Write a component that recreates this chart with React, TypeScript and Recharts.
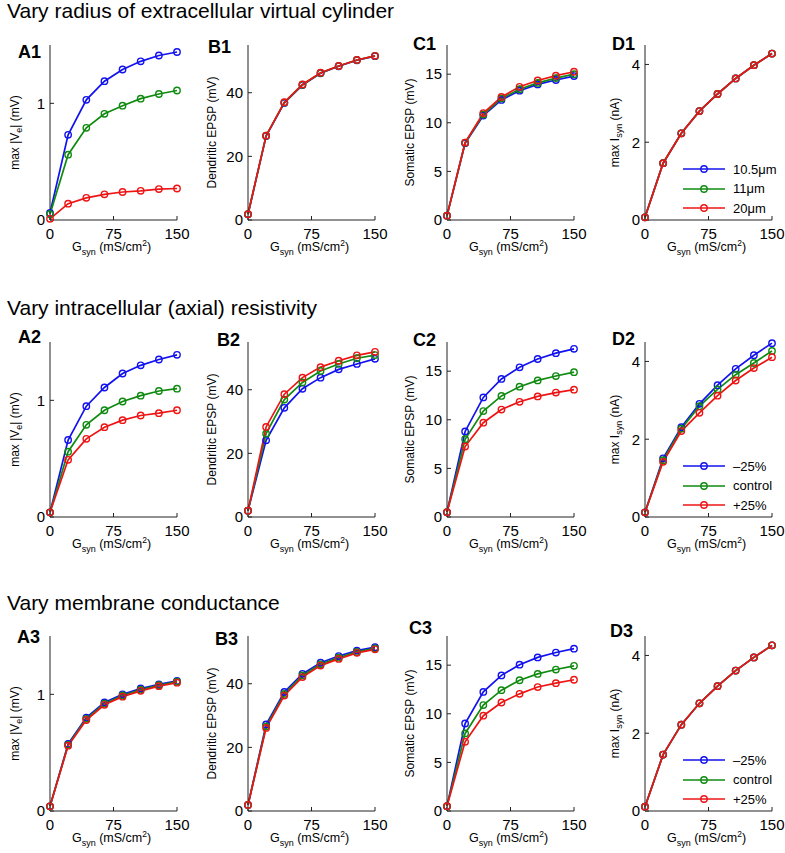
import { LineChart, Line, XAxis, YAxis, Legend } from 'recharts';

const FONT = '"Liberation Sans", Arial, Helvetica, sans-serif';
const BLUE = '#1212ee';
const GREEN = '#108a10';
const RED = '#ee1414';

// conductance sampled at 8 points (mS/cm2)
const G_SYN = [0, 21.4, 42.9, 64.3, 85.7, 107.1, 128.6, 150];
const X_TICKS = [0, 75, 150];

const TITLES = [
  'Vary radius of extracellular virtual cylinder',
  'Vary intracellular (axial) resistivity',
  'Vary membrane conductance',
];
const RADIUS_LABELS = ['10.5\u03bcm', '11\u03bcm', '20\u03bcm'];
const PERCENT_LABELS = ['\u201325%', 'control', '+25%'];

// row 1: radius of virtual cylinder
const A1_BLUE = [0.06, 0.73, 1.03, 1.19, 1.29, 1.36, 1.41, 1.44];
const A1_GREEN = [0.05, 0.56, 0.79, 0.91, 0.98, 1.04, 1.08, 1.11];
const A1_RED = [0.01, 0.14, 0.19, 0.22, 0.24, 0.25, 0.265, 0.27];
const B1_BLUE = [1.8, 26.4, 36.8, 42.4, 46.1, 48.3, 50.2, 51.5];
const B1_GREEN = [1.8, 26.5, 36.9, 42.5, 46.2, 48.4, 50.3, 51.6];
const B1_RED = [1.8, 26.5, 37.0, 42.6, 46.3, 48.4, 50.3, 51.6];
const C1_BLUE = [0.45, 7.9, 10.75, 12.35, 13.3, 13.95, 14.4, 14.8];
const C1_GREEN = [0.45, 7.95, 10.85, 12.5, 13.45, 14.1, 14.6, 15.0];
const C1_RED = [0.45, 7.96, 11.0, 12.65, 13.7, 14.35, 14.85, 15.25];
const D1_BLUE = [0.07, 1.46, 2.23, 2.8, 3.24, 3.64, 3.98, 4.28];
const D1_GREEN = [0.07, 1.46, 2.23, 2.8, 3.24, 3.64, 3.98, 4.28];
const D1_RED = [0.07, 1.46, 2.23, 2.8, 3.24, 3.64, 3.98, 4.28];

// row 2: axial resistivity
const A2_BLUE = [0.04, 0.66, 0.95, 1.11, 1.23, 1.3, 1.35, 1.39];
const A2_GREEN = [0.04, 0.56, 0.79, 0.915, 0.99, 1.04, 1.08, 1.1];
const A2_RED = [0.04, 0.49, 0.67, 0.77, 0.83, 0.87, 0.89, 0.915];
const B2_BLUE = [2.0, 24.1, 34.3, 40.3, 43.8, 46.4, 48.1, 49.7];
const B2_GREEN = [2.0, 26.2, 36.9, 42.3, 45.9, 48.1, 49.9, 50.9];
const B2_RED = [2.0, 28.3, 38.6, 43.8, 47.1, 49.1, 50.8, 51.9];
const C2_BLUE = [0.5, 8.8, 12.3, 14.2, 15.4, 16.25, 16.85, 17.3];
const C2_GREEN = [0.5, 8.0, 10.9, 12.45, 13.4, 14.05, 14.5, 14.9];
const C2_RED = [0.5, 7.25, 9.7, 11.05, 11.85, 12.4, 12.8, 13.1];
const D2_BLUE = [0.12, 1.51, 2.31, 2.91, 3.39, 3.81, 4.16, 4.47];
const D2_GREEN = [0.12, 1.46, 2.27, 2.85, 3.28, 3.66, 3.96, 4.27];
const D2_RED = [0.12, 1.42, 2.21, 2.68, 3.12, 3.51, 3.83, 4.11];

// row 3: membrane conductance
const A3_BLUE = [0.04, 0.575, 0.8, 0.93, 1.0, 1.05, 1.085, 1.115];
const A3_GREEN = [0.04, 0.567, 0.79, 0.92, 0.99, 1.04, 1.078, 1.109];
const A3_RED = [0.04, 0.56, 0.78, 0.91, 0.98, 1.03, 1.07, 1.1];
const B3_BLUE = [1.9, 27.2, 37.4, 43.1, 46.6, 48.7, 50.4, 51.5];
const B3_GREEN = [1.9, 26.6, 36.8, 42.6, 46.1, 48.2, 50.0, 51.1];
const B3_RED = [1.9, 26.1, 36.3, 42.1, 45.7, 47.8, 49.7, 50.8];
const C3_BLUE = [0.5, 9.0, 12.25, 13.95, 15.05, 15.8, 16.3, 16.7];
const C3_GREEN = [0.5, 7.98, 10.9, 12.43, 13.45, 14.1, 14.55, 14.93];
const C3_RED = [0.5, 7.12, 9.8, 11.16, 12.05, 12.75, 13.15, 13.5];
const D3_BLUE = [0.11, 1.45, 2.22, 2.77, 3.21, 3.61, 3.95, 4.26];
const D3_GREEN = [0.11, 1.45, 2.22, 2.77, 3.21, 3.61, 3.95, 4.26];
const D3_RED = [0.11, 1.45, 2.22, 2.77, 3.21, 3.61, 3.95, 4.26];

const A_TICKS = [0, 1];
const B_TICKS = [0, 20, 40];
const C_TICKS = [0, 5, 10, 15];
const D_TICKS = [0, 2, 4];

// layout
const COL_LEFT = [50, 248, 447, 645];
const ROW_TOP = [45, 342, 636];
const TITLE_TOP = [0, 297, 592];
const PW = 127;
const PH = 175;
const YW = 48;
const MT = 8;
const MR = 22;
const XH = 42;

type Col = 'A' | 'B' | 'C' | 'D';
const COL_DOMAIN: Record<Col, [number, number]> = { A: [0, 1.5], B: [0, 55], C: [0, 18], D: [0, 4.5] };
const COL_TICKS: Record<Col, number[]> = { A: A_TICKS, B: B_TICKS, C: C_TICKS, D: D_TICKS };
const COL_LABEL_X: Record<Col, number> = { A: -35, B: -36, C: -37, D: -30 };

type PanelDef = {
  tag: string; col: Col; row: number; tagX: number; tagY: number;
  blue: number[]; green: number[]; red: number[]; legend?: string[];
};

const PANELS: PanelDef[] = [
  { tag: 'A1', col: 'A', row: 0, tagX: 18, tagY: 45, blue: A1_BLUE, green: A1_GREEN, red: A1_RED },
  { tag: 'B1', col: 'B', row: 0, tagX: 208, tagY: 40, blue: B1_BLUE, green: B1_GREEN, red: B1_RED },
  { tag: 'C1', col: 'C', row: 0, tagX: 413, tagY: 37, blue: C1_BLUE, green: C1_GREEN, red: C1_RED },
  { tag: 'D1', col: 'D', row: 0, tagX: 612, tagY: 37, blue: D1_BLUE, green: D1_GREEN, red: D1_RED, legend: RADIUS_LABELS },
  { tag: 'A2', col: 'A', row: 1, tagX: 18, tagY: 330, blue: A2_BLUE, green: A2_GREEN, red: A2_RED },
  { tag: 'B2', col: 'B', row: 1, tagX: 217, tagY: 333, blue: B2_BLUE, green: B2_GREEN, red: B2_RED },
  { tag: 'C2', col: 'C', row: 1, tagX: 413, tagY: 333, blue: C2_BLUE, green: C2_GREEN, red: C2_RED },
  { tag: 'D2', col: 'D', row: 1, tagX: 612, tagY: 332, blue: D2_BLUE, green: D2_GREEN, red: D2_RED, legend: PERCENT_LABELS },
  { tag: 'A3', col: 'A', row: 2, tagX: 17, tagY: 630, blue: A3_BLUE, green: A3_GREEN, red: A3_RED },
  { tag: 'B3', col: 'B', row: 2, tagX: 215, tagY: 632, blue: B3_BLUE, green: B3_GREEN, red: B3_RED },
  { tag: 'C3', col: 'C', row: 2, tagX: 409, tagY: 621, blue: C3_BLUE, green: C3_GREEN, red: C3_RED },
  { tag: 'D3', col: 'D', row: 2, tagX: 610, tagY: 624, blue: D3_BLUE, green: D3_GREEN, red: D3_RED, legend: PERCENT_LABELS },
];

const SERIES = [
  { key: 'blue', color: BLUE },
  { key: 'green', color: GREEN },
  { key: 'red', color: RED },
];

function XTitle() {
  const x = YW + PW / 2 - 2;
  const y = MT + PH + 31;
  return (
    <text x={x} y={y} textAnchor="middle" fontFamily={FONT} fontSize={12.5} fill="#000">
      G<tspan fontSize={9} dy={4}>syn</tspan>
      <tspan dy={-4}> (mS/cm</tspan>
      <tspan fontSize={8.5} dy={-5}>2</tspan>
      <tspan dy={5}>)</tspan>
    </text>
  );
}

function YTitle({ col }: { col: Col }) {
  const x = YW + COL_LABEL_X[col] + 4;
  const y = MT + PH / 2;
  let body;
  if (col === 'A') {
    body = (
      <>
        max |V<tspan fontSize={9} dy={3}>e</tspan>
        <tspan dy={-3}>| (mV)</tspan>
      </>
    );
  } else if (col === 'D') {
    body = (
      <>
        max I<tspan fontSize={9} dy={3}>syn</tspan>
        <tspan dy={-3}> (nA)</tspan>
      </>
    );
  } else {
    body = col === 'B' ? 'Dendritic EPSP (mV)' : 'Somatic EPSP (mV)';
  }
  return (
    <text x={x} y={y} transform={`rotate(-90 ${x} ${y})`} textAnchor="middle" fontFamily={FONT} fontSize={12} fill="#000">
      {body}
    </text>
  );
}

function LegendBox({ payload }: any) {
  return (
    <div style={{ fontFamily: FONT, fontSize: 13, color: '#000' }}>
      {(payload || []).map((p: any) => (
        <div key={p.value} style={{ display: 'flex', alignItems: 'center', height: 19.5 }}>
          <svg width={44} height={10} style={{ display: 'block' }}>
            <line x1={1} y1={5} x2={43} y2={5} stroke={p.color} strokeWidth={1.7} />
            <circle cx={22} cy={5} r={3.2} fill="none" stroke={p.color} strokeWidth={1.4} />
          </svg>
          <span style={{ marginLeft: 7 }}>{p.value}</span>
        </div>
      ))}
    </div>
  );
}

function Panel({ def }: { def: PanelDef }) {
  const left = COL_LEFT['ABCD'.indexOf(def.col)];
  const top = ROW_TOP[def.row];
  const data = G_SYN.map((g, i) => ({ g, blue: def.blue[i], green: def.green[i], red: def.red[i] }));
  const tickStyle = { fontSize: 15, fill: '#000', fontFamily: FONT };
  return (
    <>
      <div style={{ position: 'absolute', left: def.tagX, top: def.tagY - 2, fontSize: 18, fontWeight: 'bold', lineHeight: 1 }}>
        {def.tag}
      </div>
      <div style={{ position: 'absolute', left: left - YW, top: top - MT }}>
        <LineChart
          width={YW + PW + MR}
          height={MT + PH + XH}
          data={data}
          margin={{ top: MT, right: MR, bottom: 0, left: 0 }}
        >
          <XAxis
            dataKey="g"
            type="number"
            domain={[0, 150]}
            ticks={X_TICKS}
            interval={0}
            height={XH}
            tickSize={-4}
            tickMargin={12}
            tick={tickStyle}
            stroke="#222"
            label={() => <XTitle />}
          />
          <YAxis
            type="number"
            domain={COL_DOMAIN[def.col]}
            ticks={COL_TICKS[def.col]}
            interval={0}
            width={YW}
            tickSize={-4}
            tickMargin={9}
            tick={tickStyle}
            stroke="#222"
            label={() => <YTitle col={def.col} />}
          />
          {SERIES.map((s, i) => (
            <Line
              key={s.key}
              dataKey={s.key}
              name={def.legend ? def.legend[i] : s.key}
              stroke={s.color}
              strokeWidth={1.7}
              dot={{ r: 3.2, fill: 'none', stroke: s.color, strokeWidth: 1.4 }}
              activeDot={false}
              isAnimationActive={false}
            />
          ))}
          {def.legend && (
            <Legend
              layout="horizontal"
              verticalAlign="middle"
              align="center"
              itemSorter="dataKey"
              content={(props: any) => <LegendBox payload={props.payload} />}
              wrapperStyle={{ left: YW + 37, top: MT + 124 - 9.75, width: 110, height: 60, margin: 0 }}
            />
          )}
        </LineChart>
      </div>
    </>
  );
}

export default function App() {
  return (
    <div style={{ position: 'absolute', left: 0, top: 0, width: 785, height: 853, background: '#fff', fontFamily: FONT }}>
      {TITLES.map((t, i) => (
        <div key={t} style={{ position: 'absolute', left: 7, top: TITLE_TOP[i], fontSize: 21, lineHeight: 1, whiteSpace: 'nowrap' }}>
          {t}
        </div>
      ))}
      {PANELS.map(p => (
        <Panel key={p.tag} def={p} />
      ))}
    </div>
  );
}
